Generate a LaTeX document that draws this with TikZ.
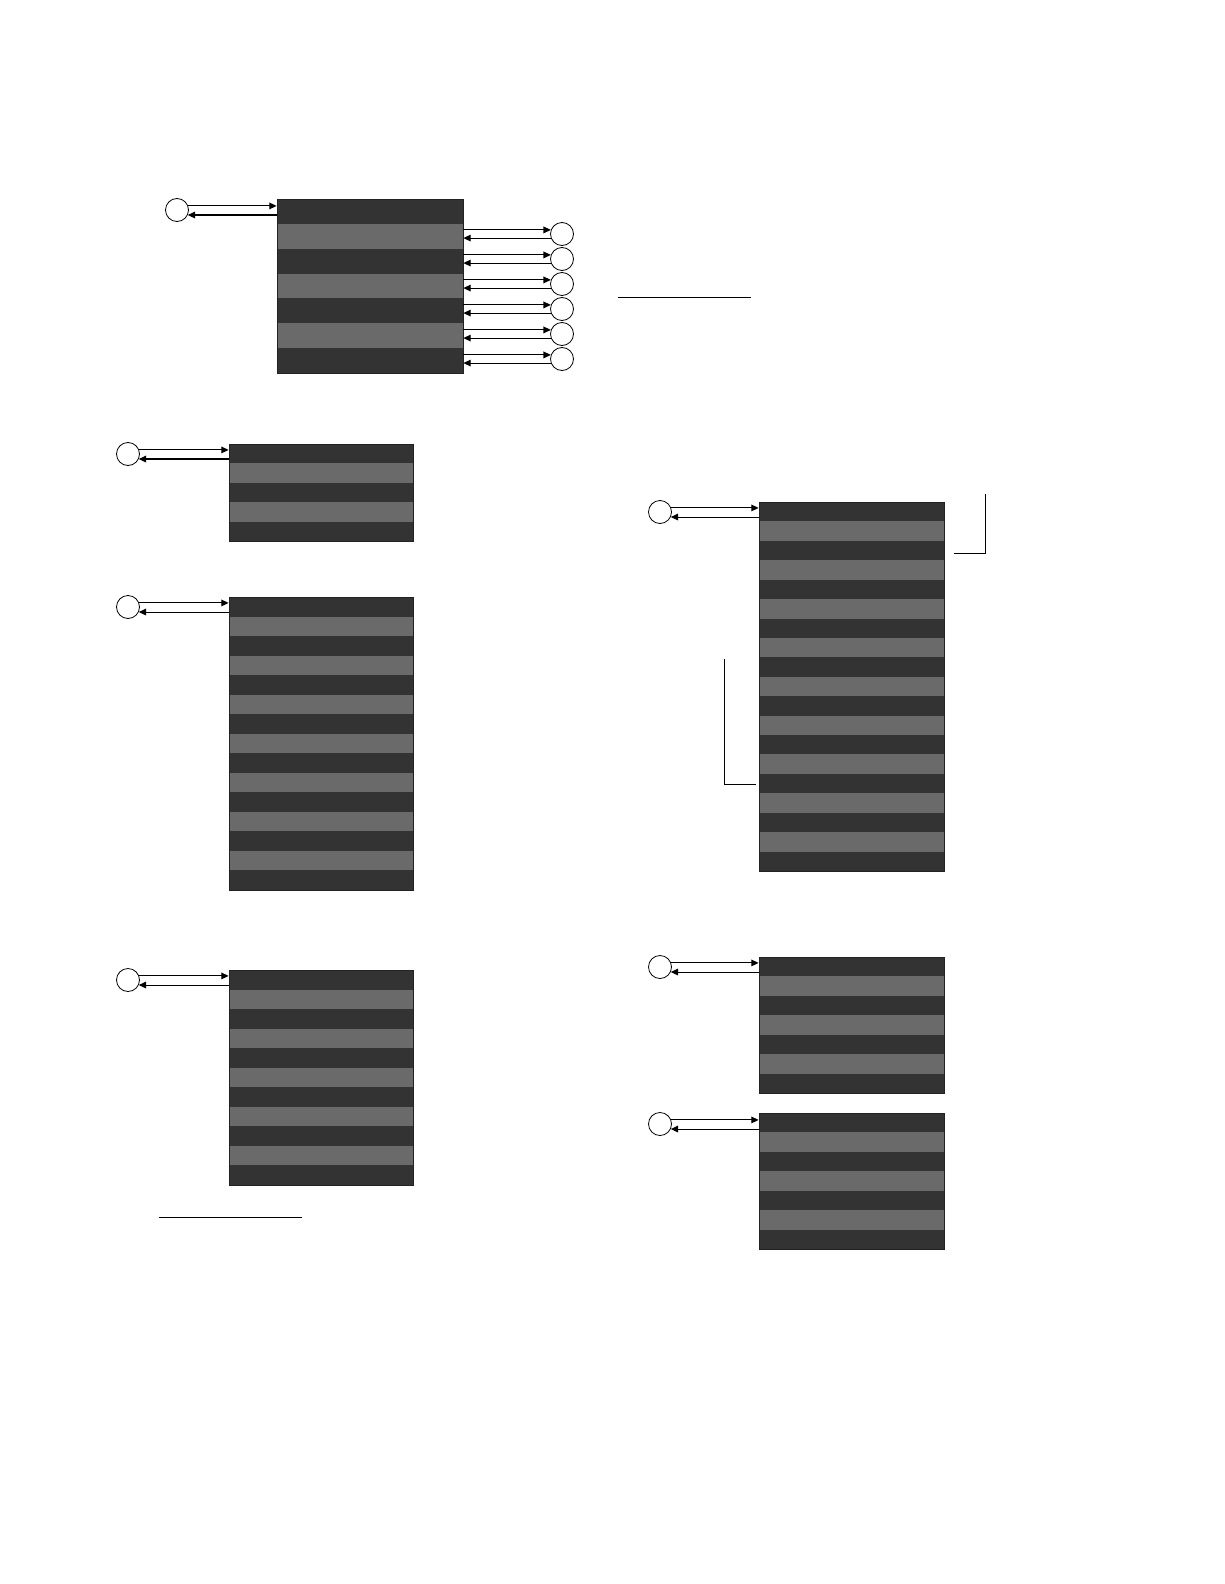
\documentclass[tikz,border=0pt]{standalone}
\usetikzlibrary{arrows.meta}
\definecolor{banddark}{HTML}{333333}
\definecolor{bandlight}{HTML}{6A6A6A}
\definecolor{boxedge}{HTML}{222222}
\tikzset{
  port/.style={circle,draw=black,line width=0.6pt,minimum size=17.25pt,inner sep=0pt,fill=white},
  arr/.style={line width=0.8pt,-{Triangle[length=5.5pt,width=5pt]}},
  plain/.style={line width=0.75pt},
  stackbox/.style={draw=boxedge,line width=0.6pt,inner sep=0pt}
}
% name, x0, y0, x1, y1, number of bands
\newcommand\bandstack[6]{%
  \fill[banddark] (#2,#3) rectangle (#4,#5);
  \pgfmathsetmacro\bandh{(#5-#3)/#6}
  \pgfmathtruncatemacro\lastband{#6-1}
  \foreach \i in {2,4,...,\lastband}{
    \fill[bandlight] (#2,{#3+(\i-1)*\bandh}) rectangle (#4,{#3+\i*\bandh});
  }
  \node[stackbox,minimum width={(#4-#2)*0.75pt},minimum height={(#5-#3)*0.75pt}] (#1) at ({(#2+#4)/2},{(#3+#5)/2}) {};
}
\begin{document}
\begin{tikzpicture}[x=0.75pt,y=-0.75pt]
\useasboundingbox (0,0) rectangle (1224,1584);
\fill[white] (0,0) rectangle (1224,1584);

% ---------- stack 1 with six outputs ----------
\bandstack{s1}{277}{199}{463}{373}{7}
\node[port] (c1) at (177,210) {};
\draw[arr] (c1.20) -- (c1.20 -| s1.west);
\draw[arr] (c1.-25 -| s1.west) -- (c1.-25);
\foreach \k/\yy in {1/234,2/259,3/284,4/309,5/334,6/359}{
  \node[port] (r\k) at (562,\yy) {};
  \draw[arr] (r\k.160 -| s1.east) -- (r\k.160);
  \draw[arr] (r\k.-160) -- (r\k.-160 -| s1.east);
}

% ---------- stack 2 ----------
\bandstack{s2}{229}{444}{413}{541}{5}
\node[port] (c2) at (128,454) {};
\draw[arr] (c2.20) -- (c2.20 -| s2.west);
\draw[arr] (c2.-25 -| s2.west) -- (c2.-25);

% ---------- stack 3 ----------
\bandstack{s3}{229}{597}{413}{890}{15}
\node[port] (c3) at (128,607) {};
\draw[arr] (c3.20) -- (c3.20 -| s3.west);
\draw[arr] (c3.-25 -| s3.west) -- (c3.-25);

% ---------- stack 4 ----------
\bandstack{s4}{229}{970}{413}{1185}{11}
\node[port] (c4) at (128,980) {};
\draw[arr] (c4.20) -- (c4.20 -| s4.west);
\draw[arr] (c4.-25 -| s4.west) -- (c4.-25);
\coordinate (u1a) at (159,1217);
\coordinate (u1b) at (302,1217);
\draw[plain] (u1a) -- (u1b);

% ---------- top right line ----------
\coordinate (u2a) at (618,297);
\coordinate (u2b) at (751,297);
\draw[plain] (u2a) -- (u2b);

% ---------- stack 5 ----------
\bandstack{s5}{759}{502}{944}{871}{19}
\node[port] (c5) at (660,512) {};
\draw[arr] (c5.20) -- (c5.20 -| s5.west);
\draw[arr] (c5.-25 -| s5.west) -- (c5.-25);
\coordinate (b1a) at (954,553);
\coordinate (b1b) at (985,553);
\coordinate (b1c) at (985,494);
\draw[plain] (b1a) -- (b1b) -- (b1c);
\coordinate (b2a) at (724,659);
\coordinate (b2b) at (724,784);
\coordinate (b2c) at (756,784);
\draw[plain] (b2a) -- (b2b) -- (b2c);

% ---------- stack 6 ----------
\bandstack{s6}{759}{957}{944}{1093}{7}
\node[port] (c6) at (660,967) {};
\draw[arr] (c6.20) -- (c6.20 -| s6.west);
\draw[arr] (c6.-25 -| s6.west) -- (c6.-25);

% ---------- stack 7 ----------
\bandstack{s7}{759}{1113}{944}{1249}{7}
\node[port] (c7) at (660,1124) {};
\draw[arr] (c7.20) -- (c7.20 -| s7.west);
\draw[arr] (c7.-25 -| s7.west) -- (c7.-25);
\end{tikzpicture}
\end{document}
